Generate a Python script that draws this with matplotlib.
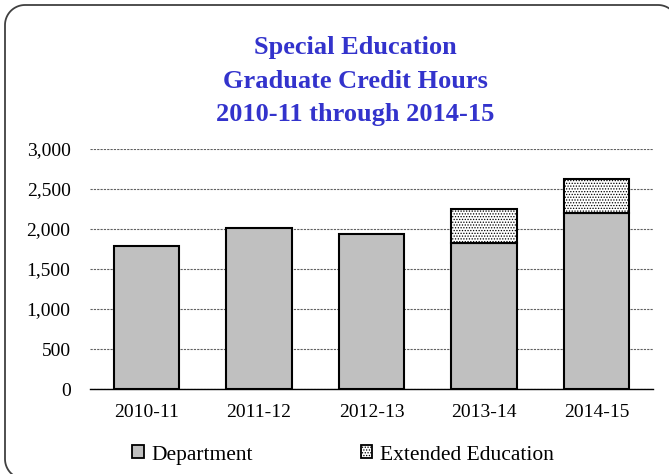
import numpy as np
import matplotlib.pyplot as plt
from matplotlib.patches import Patch
from matplotlib.lines import Line2D
from matplotlib.ticker import FuncFormatter

plt.rcParams['font.family'] = ['Liberation Serif', 'DejaVu Serif']
plt.rcParams['hatch.color'] = '#9a9a9a'
plt.rcParams['hatch.linewidth'] = 0.6

# 数据
years = ["2010-11", "2011-12", "2012-13", "2013-14", "2014-15"]
department = [1790, 2010, 1935, 1820, 2205]
extended = [0, 0, 0, 425, 425]

W, H = 669, 474
fig = plt.figure(figsize=(W / 100, H / 100), dpi=100)

# 圆角外框：以像素（上方为原点）计算，再换成 figure 坐标
r = 20
L, T, R, B = 5, 5, 678, 479
t = np.linspace(0, np.pi / 2, 20)
fx, fy = [], []
fx += list(L + r - r * np.sin(t)); fy += list(B - r + r * np.cos(t))
fx += list(L + r - r * np.cos(t)); fy += list(T + r - r * np.sin(t))
fx += list(R - r + r * np.sin(t)); fy += list(T + r - r * np.cos(t))
fx += list(R - r + r * np.cos(t)); fy += list(B - r + r * np.sin(t))
fx.append(fx[0]); fy.append(fy[0])
frame = Line2D(np.array(fx) / W, 1 - np.array(fy) / H, transform=fig.transFigure,
               color="#404040", linewidth=1.3, zorder=-1)
fig.lines.append(frame)

ax = fig.add_axes([90 / W, 1 - 389 / H, (653 - 90) / W, (389 - 149) / H])
ax.set_facecolor("none")

x = np.arange(len(years))
ax.bar(x, department, width=0.58, color="#c0c0c0", edgecolor="black", linewidth=1.5,
       label="Department", zorder=3)
ext = np.array(extended)
mask = ext > 0
ax.bar(x[mask], ext[mask], bottom=np.array(department)[mask], width=0.58,
       color="white", edgecolor="black", linewidth=1.5, hatch="......",
       label="Extended Education", zorder=3)

ax.set_ylim(0, 3000)
ax.set_xlim(-0.5, len(years) - 0.5)
ax.set_yticks(range(0, 3001, 500))
ax.yaxis.set_major_formatter(FuncFormatter(lambda v, p: f"{int(v):,}"))
ax.set_xticks(x)
ax.set_xticklabels(years)
ax.tick_params(axis="both", labelsize=14, length=0, colors="black")
ax.tick_params(axis="y", pad=14)
ax.tick_params(axis="x", pad=11)
ax.yaxis.grid(True, color="#606060", linestyle=(0, (2, 1)), linewidth=0.8, zorder=1)
for s in ["top", "right", "left"]:
    ax.spines[s].set_visible(False)
ax.spines["bottom"].set_color("black")
ax.spines["bottom"].set_linewidth(1.0)

fig.text(355 / W, 1 - 81 / H, "Special Education\nGraduate Credit Hours\n2010-11 through 2014-15",
         ha="center", va="center", fontsize=19, fontweight="bold", color="#3333cc",
         linespacing=1.57)

handles = [Patch(facecolor="#c0c0c0", edgecolor="black", linewidth=1.3, label="Department"),
           Patch(facecolor="white", edgecolor="black", linewidth=1.3, hatch="......",
                 label="Extended Education")]
fig.legend(handles=handles, loc="center", bbox_to_anchor=(343 / W, 1 - 455 / H), ncol=2,
           frameon=False, fontsize=15.5, handlelength=0.55, handleheight=0.55,
           handletextpad=0.35, columnspacing=5.0)

fig.savefig("out.png", dpi=100)
